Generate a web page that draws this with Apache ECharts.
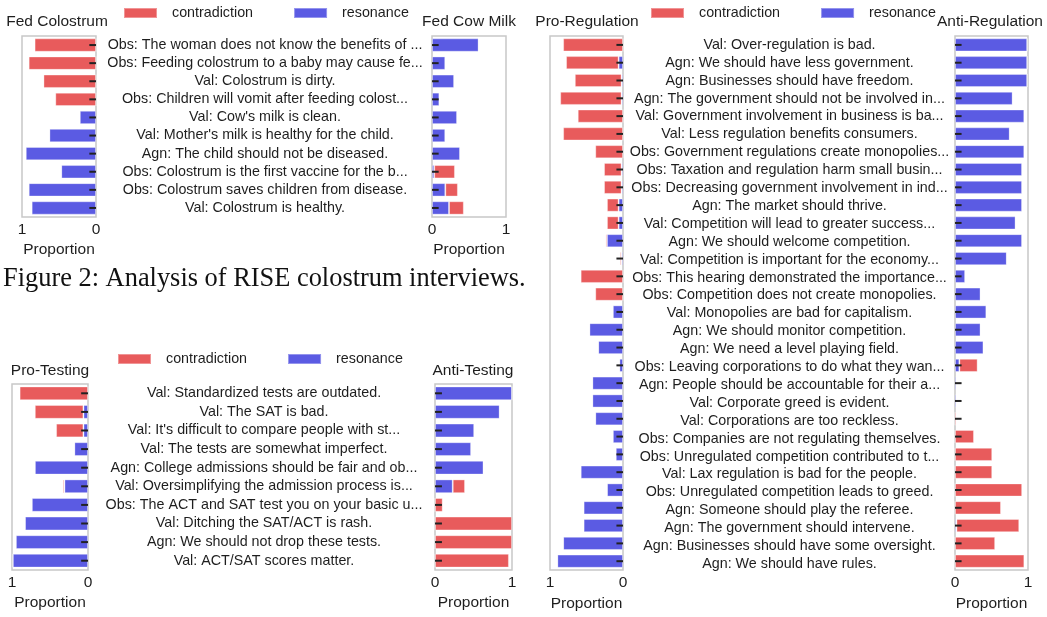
<!DOCTYPE html>
<html>
<head>
<meta charset="utf-8">
<script src="https://cdn.jsdelivr.net/npm/echarts@6/dist/echarts.min.js"></script>
<style>
  html, body { margin: 0; padding: 0; background: #fff; }
  #chart { width: 1047px; height: 617px; }
</style>
</head>
<body>
<div id="chart"></div>
<script>
// ---- data ----
var colostrumLabels = [
  "Obs: The woman does not know the benefits of ...",
  "Obs: Feeding colostrum to a baby may cause fe...",
  "Val: Colostrum is dirty.",
  "Obs: Children will vomit after feeding colost...",
  "Val: Cow's milk is clean.",
  "Val: Mother's milk is healthy for the child.",
  "Agn: The child should not be diseased.",
  "Obs: Colostrum is the first vaccine for the b...",
  "Obs: Colostrum saves children from disease.",
  "Val: Colostrum is healthy."
];
var fedColostrumRes = [0, 0, 0, 0, 0.22, 0.63, 0.95, 0.47, 0.91, 0.87];
var fedColostrumCon = [0.83, 0.91, 0.71, 0.55, 0, 0, 0, 0, 0, 0];
var fedCowMilkRes = [0.63, 0.18, 0.30, 0.10, 0.34, 0.18, 0.38, 0.03, 0.18, 0.23];
var fedCowMilkCon = [0, 0, 0, 0, 0, 0, 0, 0.28, 0.17, 0.20];

var testingLabels = [
  "Val: Standardized tests are outdated.",
  "Val: The SAT is bad.",
  "Val: It's difficult to compare people with st...",
  "Val: The tests are somewhat imperfect.",
  "Agn: College admissions should be fair and ob...",
  "Val: Oversimplifying the admission process is...",
  "Obs: The ACT and SAT test you on your basic u...",
  "Val: Ditching the SAT/ACT is rash.",
  "Agn: We should not drop these tests.",
  "Val: ACT/SAT scores matter."
];
var proTestingRes = [0, 0.06, 0.06, 0.18, 0.70, 0.31, 0.74, 0.83, 0.95, 0.99];
var proTestingCon = [0.90, 0.64, 0.36, 0, 0, 0.02, 0, 0, 0, 0];
var antiTestingRes = [1.0, 0.84, 0.51, 0.47, 0.63, 0.23, 0, 0, 0, 0];
var antiTestingCon = [0, 0, 0, 0, 0, 0.16, 0.10, 1.0, 1.0, 0.96];

var regulationLabels = [
  "Val: Over-regulation is bad.",
  "Agn: We should have less government.",
  "Agn: Businesses should have freedom.",
  "Agn: The government should not be involved in...",
  "Val: Government involvement in business is ba...",
  "Val: Less regulation benefits consumers.",
  "Obs: Government regulations create monopolies...",
  "Obs: Taxation and regulation harm small busin...",
  "Obs: Decreasing government involvement in ind...",
  "Agn: The market should thrive.",
  "Val: Competition will lead to greater success...",
  "Agn: We should welcome competition.",
  "Val: Competition is important for the economy...",
  "Obs: This hearing demonstrated the importance...",
  "Obs: Competition does not create monopolies.",
  "Val: Monopolies are bad for capitalism.",
  "Agn: We should monitor competition.",
  "Agn: We need a level playing field.",
  "Obs: Leaving corporations to do what they wan...",
  "Agn: People should be accountable for their a...",
  "Val: Corporate greed is evident.",
  "Val: Corporations are too reckless.",
  "Obs: Companies are not regulating themselves.",
  "Obs: Unregulated competition contributed to t...",
  "Val: Lax regulation is bad for the people.",
  "Obs: Unregulated competition leads to greed.",
  "Agn: Someone should play the referee.",
  "Agn: The government should intervene.",
  "Agn: Businesses should have some oversight.",
  "Agn: We should have rules."
];
var proRegRes = [0, 0.06, 0.02, 0.02, 0, 0, 0, 0.02, 0.02, 0.06, 0.06, 0.22, 0.02, 0, 0,
  0.14, 0.46, 0.34, 0.05, 0.42, 0.42, 0.38, 0.14, 0.10, 0.58, 0.22, 0.54, 0.54, 0.82, 0.90];
var proRegCon = [0.82, 0.72, 0.64, 0.84, 0.62, 0.82, 0.38, 0.24, 0.24, 0.16, 0.16, 0.02, 0.02, 0.58, 0.38,
  0, 0, 0, 0, 0, 0, 0, 0, 0, 0, 0, 0, 0, 0, 0];
var antiRegRes = [0.99, 0.99, 0.99, 0.79, 0.95, 0.75, 0.95, 0.92, 0.92, 0.92, 0.83, 0.92, 0.71, 0.14, 0.35,
  0.43, 0.35, 0.39, 0.06, 0.02, 0.02, 0, 0, 0, 0, 0, 0, 0.02, 0, 0];
var antiRegCon = [0, 0, 0, 0, 0, 0, 0, 0, 0, 0, 0, 0, 0, 0, 0,
  0, 0, 0, 0.25, 0, 0, 0.02, 0.26, 0.51, 0.51, 0.92, 0.63, 0.86, 0.55, 0.95];

var tickLabels = ["0", "1"];
var errLen = 0.09; // the little black error marks near zero

// ---- styles ----
var RED = "#e85b5c";
var BLUE = "#5b5be3";
var TXT = "#1e1e1e";
var FONT = "Liberation Sans, Arial, sans-serif";

var grids = [];
var xAxes = [];
var yAxes = [];
var series = [];

// one bar chart (mirrored = true puts 0 on the right)
function addChart(left, top, width, height, labels, res, con, mirrored) {
  var idx = grids.length;
  grids.push({
    left: left, top: top, width: width, height: height,
    show: true, borderColor: "#c8c8c8", borderWidth: 1.5, backgroundColor: "#fff"
  });
  xAxes.push({
    gridIndex: idx, type: "value", min: 0, max: 1, interval: 1, inverse: mirrored,
    axisLine: { show: false }, axisTick: { show: false }, splitLine: { show: false },
    axisLabel: {
      show: true, fontSize: 15.5, color: TXT, fontFamily: FONT, margin: 5,
      showMinLabel: true, showMaxLabel: true,
      formatter: function (v) { return v === 0 ? tickLabels[0] : tickLabels[1]; }
    },
    name: "Proportion", nameLocation: "middle", nameGap: 25,
    nameTextStyle: { fontSize: 15.5, color: TXT, fontFamily: FONT }
  });
  yAxes.push({
    gridIndex: idx, type: "category", data: labels, inverse: true,
    axisLine: { show: false }, axisTick: { show: false }, axisLabel: { show: false }
  });
  series.push({
    name: "resonance", type: "bar", stack: "s" + idx, xAxisIndex: idx, yAxisIndex: idx,
    data: res, barWidth: "74%", itemStyle: { color: BLUE, borderColor: "rgba(255,255,255,0.35)", borderWidth: 1 }
  });
  series.push({
    name: "contradiction", type: "bar", stack: "s" + idx, xAxisIndex: idx, yAxisIndex: idx,
    data: con, barWidth: "74%", itemStyle: { color: RED, borderColor: "rgba(255,255,255,0.35)", borderWidth: 1 }
  });
  series.push({
    type: "custom", xAxisIndex: idx, yAxisIndex: idx, z: 5, silent: true,
    encode: { x: 0, y: 1 },
    data: labels.map(function (l, i) { return [errLen, i]; }),
    renderItem: function (params, api) {
      var p0 = api.coord([0, api.value(1)]);
      var p1 = api.coord([api.value(0), api.value(1)]);
      return {
        type: "line",
        shape: { x1: p0[0], y1: p0[1], x2: p1[0], y2: p1[1] },
        style: { stroke: "#222", lineWidth: 2 }
      };
    }
  });
}

// centred label column between the two bar charts
function addLabels(cx, top, height, labels) {
  var idx = grids.length;
  grids.push({ left: cx, top: top, width: 1, height: height });
  xAxes.push({ gridIndex: idx, type: "value", show: false });
  yAxes.push({
    gridIndex: idx, type: "category", data: labels, inverse: true,
    axisLine: { show: false }, axisTick: { show: false },
    axisLabel: { align: "center", margin: 0, fontSize: 14.3, color: TXT, fontFamily: FONT, interval: 0 }
  });
}

addChart(22, 36, 74, 181, colostrumLabels, fedColostrumRes, fedColostrumCon, true);
addLabels(265, 36, 181, colostrumLabels);
addChart(432, 36, 74, 181, colostrumLabels, fedCowMilkRes, fedCowMilkCon, false);

addChart(12, 384, 76, 186, testingLabels, proTestingRes, proTestingCon, true);
addLabels(264, 384, 186, testingLabels);
addChart(435, 384, 77, 186, testingLabels, antiTestingRes, antiTestingCon, false);

addChart(550, 36, 73, 537, regulationLabels, proRegRes, proRegCon, true);
addLabels(789.5, 36, 537, regulationLabels);
addChart(955, 36, 73, 537, regulationLabels, antiRegRes, antiRegCon, false);

function legendAt(left, top) {
  return {
    left: left, top: top, orient: "horizontal", icon: "rect",
    itemWidth: 33, itemHeight: 10, itemGap: 40,
    data: ["contradiction", "resonance"],
    textStyle: { fontSize: 14.3, color: TXT, fontFamily: FONT, padding: [0, 0, 0, 10] }
  };
}

function titleText(x, y, text) {
  return {
    type: "text", x: x, y: y,
    style: { text: text, fontSize: 15.5, fill: TXT, fontFamily: FONT, textAlign: "center", textVerticalAlign: "middle" }
  };
}

var myChart = echarts.init(document.getElementById("chart"), null, { renderer: "canvas" });
var option = {
  backgroundColor: "#fff",
  animation: false,
  grid: grids,
  xAxis: xAxes,
  yAxis: yAxes,
  legend: [legendAt(118, 1), legendAt(112, 347), legendAt(645, 1)],
  series: series,
  graphic: [
    titleText(57, 22, "Fed Colostrum"),
    titleText(469, 22, "Fed Cow Milk"),
    titleText(50, 371, "Pro-Testing"),
    titleText(473, 371, "Anti-Testing"),
    titleText(587, 22, "Pro-Regulation"),
    titleText(990, 22, "Anti-Regulation"),
    {
      type: "text", x: 3, y: 279,
      style: {
        text: "Figure 2: Analysis of RISE colostrum interviews.",
        fontSize: 26.4, fill: "#111", fontFamily: "Liberation Serif, Times New Roman, serif",
        textAlign: "left", textVerticalAlign: "middle"
      }
    }
  ]
};
myChart.setOption(option);
</script>
</body>
</html>
